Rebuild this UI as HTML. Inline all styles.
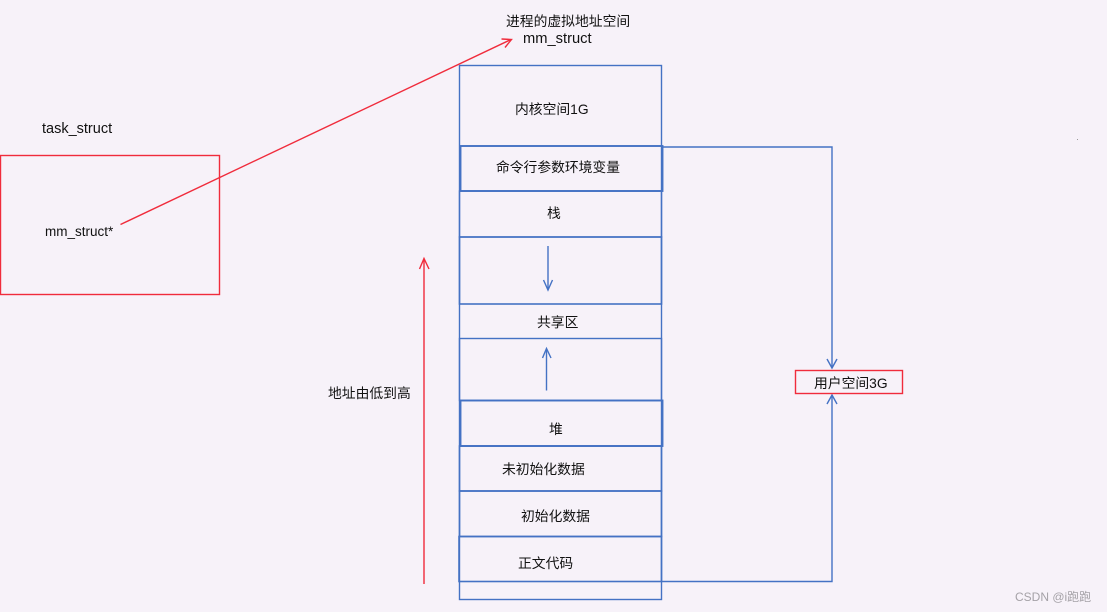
<!DOCTYPE html>
<html><head><meta charset="utf-8"><style>
html,body{margin:0;padding:0;background:#f7f2f9}
svg{display:block}
text{font-family:"Liberation Sans","Noto Sans CJK SC",sans-serif;font-size:13.8px;fill:#111}
</style></head><body>
<svg width="1107" height="612" viewBox="0 0 1107 612" xmlns="http://www.w3.org/2000/svg">
<rect width="1107" height="612" fill="#f7f2f9"/>
<g fill="none" stroke="#4472c4" stroke-width="1.4">
<rect x="459.5" y="65.5" width="202" height="534"/>
<rect x="460.5" y="146" width="202" height="45" stroke-width="1.9"/>
<rect x="459.5" y="191" width="202" height="46"/>
<rect x="459.5" y="237" width="202" height="67" stroke-width="1.6"/>
<rect x="459.5" y="338.5" width="202" height="62"/>
<rect x="460.5" y="400.5" width="202" height="45.5" stroke-width="1.9"/>
<rect x="459.5" y="446" width="202" height="45" stroke-width="1.6"/>
<rect x="459.5" y="491" width="202" height="45.5" stroke-width="1.6"/>
<rect x="459" y="536.5" width="202.5" height="45" stroke-width="1.6"/>
<path d="M662 147H832V367"/>
<path d="M827 359L832 368L837 359"/>
<path d="M661 581.5H832V395"/>
<path d="M827 404L832 395L837 404"/>
<path d="M548 246V289"/>
<path d="M543.500 280L548 290L552.500 280"/>
<path d="M546.500 390.500L546.500 349"/>
<path d="M542.500 358L546.500 348.500L551 358"/>
</g>
<g fill="none" stroke="#f02c3c" stroke-width="1.4">
<rect x="0.500" y="155.500" width="219" height="139"/>
<rect x="795.500" y="370.500" width="107" height="23"/>
<path d="M120.500 224.500L511 39.500"/>
<path d="M501.500 39L511.500 39.500L505 47.500"/>
<path d="M424 584V259"/>
<path d="M419.500 269L424 258.500L429 269"/>
</g>
<text x="506" y="26">进程的虚拟地址空间</text>
<text x="523" y="43" style="font-size:14.7px">mm_struct</text>
<text x="515" y="114">内核空间1G</text>
<text x="496" y="172" textLength="124">命令行参数环境变量</text>
<text x="547" y="218">栈</text>
<text x="537" y="327">共享区</text>
<text x="549" y="434">堆</text>
<text x="502" y="474">未初始化数据</text>
<text x="521" y="521">初始化数据</text>
<text x="518" y="568">正文代码</text>
<text x="42" y="133" style="font-size:14.5px">task_struct</text>
<text x="45" y="236" style="font-size:13.5px">mm_struct*</text>
<text x="328" y="398">地址由低到高</text>
<text x="814" y="388">用户空间3G</text>
<text x="1015" y="601" style="font-size:12px;fill:#a5a2a7">CSDN @i跑跑</text>
<rect x="1077" y="139" width="1" height="1" fill="#9a9a9a"/>
</svg>
</body></html>
